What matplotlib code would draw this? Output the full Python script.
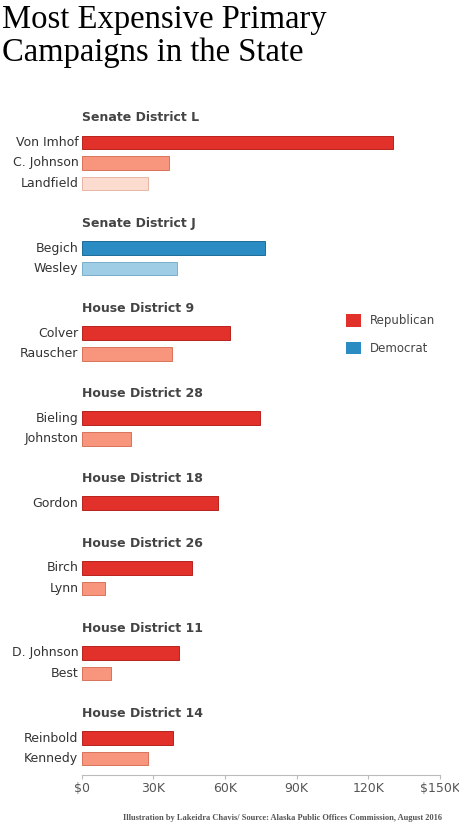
import matplotlib
matplotlib.use("Agg")
import matplotlib.pyplot as plt
from matplotlib.patches import Patch

groups = ["Senate District L", "Senate District J", "House District 9", "House District 28",
          "House District 18", "House District 26", "House District 11", "House District 14"]
names = [["Von Imhof", "C. Johnson", "Landfield"], ["Begich", "Wesley"], ["Colver", "Rauscher"],
         ["Bieling", "Johnston"], ["Gordon"], ["Birch", "Lynn"], ["D. Johnson", "Best"],
         ["Reinbold", "Kennedy"]]
values = [[130.5, 36.5, 27.7], [76.7, 39.8], [62.0, 37.7], [74.6, 20.5], [57.0],
          [46.0, 9.6], [40.6, 12.2], [38.1, 27.7]]
party = ["R", "D", "R", "R", "R", "R", "R", "R"]
ticks = [0, 30, 60, 90, 120, 150]
tick_labels = ["$0", "30K", "60K", "90K", "120K", "$150K"]

shades = {"R": ["#e2302b", "#f7967c", "#fddcd0"], "D": ["#2b8cc4", "#a0cde6"]}
edges = {"R": ["#b8221d", "#d9735a", "#e8b5a5"], "D": ["#1f6c99", "#7aaecb"]}

fig = plt.figure(figsize=(4.6, 8.3), dpi=100)
ax = fig.add_axes([0.178, 0.066, 0.778, 0.806])

y = 0
for g, ns, vs, p in zip(groups, names, values, party):
    ax.text(0, y, g, fontsize=9, fontweight="bold", color="#444444", va="center", ha="left",
            family="DejaVu Sans")
    y += 25
    for i, (n, v) in enumerate(zip(ns, vs)):
        ax.barh(y, v, height=14, color=shades[p][i], edgecolor=edges[p][i], linewidth=0.7)
        ax.text(-1.5, y, n, ha="right", va="center", fontsize=9, color="#333333")
        y += 21
    y += 20

ax.set_ylim(y - 24, -12)
ax.set_xlim(0, 150)
ax.set_yticks([])
ax.set_xticks(ticks)
ax.set_xticklabels(tick_labels, fontsize=9, color="#555555")
for s in ["top", "right", "left"]:
    ax.spines[s].set_visible(False)
ax.spines["bottom"].set_color("#bbbbbb")
ax.tick_params(axis="x", length=3, color="#bbbbbb", pad=2)

handles = [Patch(facecolor="#e2302b", label="Republican"), Patch(facecolor="#2b8cc4", label="Democrat")]
fig.legend(handles=handles, loc="upper left", bbox_to_anchor=(0.73, 0.634), frameon=False,
           fontsize=8.5, handlelength=1.2, handleheight=1.2, labelspacing=1.2, labelcolor="#444444")

fig.text(0.005, 0.995, "Most Expensive Primary\nCampaigns in the State", fontsize=23.5,
         family="Liberation Serif", va="top", ha="left", linespacing=1.12)
fig.text(0.96, 0.012, "Illustration by Lakeidra Chavis/ Source: Alaska Public Offices Commission, August 2016",
         fontsize=6, family="Liberation Serif", fontweight="bold", color="#555555", ha="right")

fig.savefig("out.png", dpi=100, facecolor="white")
